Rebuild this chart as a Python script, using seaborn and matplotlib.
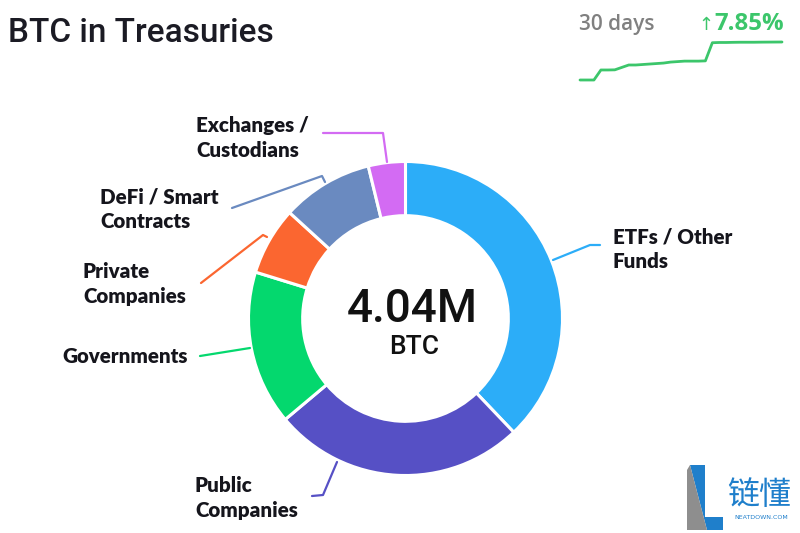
import matplotlib
matplotlib.use("Agg")
import matplotlib.pyplot as plt
import seaborn as sns
import pandas as pd
import numpy as np
from matplotlib.patches import Polygon

# ---------------- data ----------------
categories = ["ETFs / Other\nFunds", "Public\nCompanies", "Governments",
              "Private\nCompanies", "DeFi / Smart\nContracts", "Exchanges /\nCustodians"]
holdings_k_btc = [1531, 1050, 642, 283, 380, 154]   # thousand BTC
slice_colors = ["#2CADF8", "#5650C5", "#04D86E", "#FB6630", "#6A8AC0", "#D36BF3"]
total_label = "4.04M"
unit_label = "BTC"
title = "BTC in Treasuries"
spark_days = list(range(30))
spark_change_pct = [0, 0, 0, 2.07, 2.07, 2.1, 2.6, 3.1, 3.1, 3.2, 3.3, 3.4, 3.5, 3.7,
                    3.8, 3.9, 3.9, 3.9, 3.95, 7.7, 7.75, 7.75, 7.78, 7.8, 7.8, 7.8,
                    7.82, 7.83, 7.84, 7.85]
spark_period = "30 days"
spark_arrow = "\u2191"
spark_delta = "7.85%"

# ---------------- layout ----------------
W, H = 800, 533
sns.set_theme(style="white")
plt.rcParams["font.family"] = ["Lato", "DejaVu Sans"]

fig = plt.figure(figsize=(W / 100, H / 100), dpi=100)
fig.patch.set_facecolor("white")

# donut axes
cx, cy, R = 405.5, 318.5, 157
ax_pie = fig.add_axes([(cx - R) / W, (H - cy - R) / H, 2 * R / W, 2 * R / H])
palette = sns.color_palette(slice_colors)
wedges, _ = ax_pie.pie(holdings_k_btc, colors=palette, startangle=90, counterclock=False,
                       radius=1.0,
                       wedgeprops=dict(width=0.345, edgecolor="white", linewidth=2.2,
                                       joinstyle="round"))
ax_pie.set_xlim(-1, 1)
ax_pie.set_ylim(-1, 1)
ax_pie.set_aspect("equal")
ax_pie.axis("off")

# overlay axes in pixel coordinates
ax = fig.add_axes([0, 0, 1, 1], zorder=5)
ax.set_xlim(0, W)
ax.set_ylim(H, 0)
ax.axis("off")
ax.patch.set_alpha(0)

ax.text(8, 42, title, fontsize=24, color="#1b1b24", family=["Roboto", "DejaVu Sans"],
        fontweight="medium", va="baseline", ha="left")

# center text
ax.text(cx + 7, 322, total_label, fontsize=33, color="#111111",
        family=["Roboto", "DejaVu Sans"], fontweight="medium", ha="center", va="baseline")
ax.text(cx + 9, 354, unit_label, fontsize=19, color="#111111",
        family=["Roboto", "DejaVu Sans"], fontweight="medium", ha="center", va="baseline")

# labels and leader lines
label_pos = [(613, 243), (195, 492), (62, 363), (83, 278), (100, 203), (196, 132)]
leaders = [
    [(553, 260), (590, 245), (600, 245)],
    [(337, 462), (323, 495), (312, 496)],
    [(200, 356), (250, 348)],
    [(201, 283), (263, 235), (267, 237)],
    [(232, 208), (322, 176), (325, 182)],
    [(323, 133), (383, 133), (387, 162)],
]
for lab, (lx, ly), pts, col in zip(categories, label_pos, leaders, palette):
    for i, line in enumerate(lab.split("\n")):
        ax.text(lx, ly + i * 25, line, fontsize=14.8, fontweight="heavy", color="#15151c",
                ha="left", va="baseline")
    xs, ys = zip(*pts)
    ax.plot(xs, ys, color=col, lw=1.6, solid_capstyle="round", solid_joinstyle="round")

# sparkline header
ax.text(579, 30, spark_period, fontsize=15, color="#808080", ha="left", va="baseline",
        family=["Open Sans", "DejaVu Sans"], fontweight="semibold")
ax.text(784, 30, spark_delta, fontsize=17.3, color="#3CC66B", ha="right", va="baseline",
        family=["Open Sans", "DejaVu Sans"], fontweight="bold")
ax.text(713, 30, spark_arrow, fontsize=13, color="#3CC66B", ha="right", va="baseline",
        family=["DejaVu Sans"])

sx0, sx1, sy0, sy1 = 578, 784, 38, 84
ax_sp = fig.add_axes([sx0 / W, (H - sy1) / H, (sx1 - sx0) / W, (sy1 - sy0) / H], zorder=6)
df = pd.DataFrame({"day": spark_days, "chg": spark_change_pct})
sns.lineplot(data=df, x="day", y="chg", ax=ax_sp, color="#3CC66B", lw=2)
pxd = (782 - 580) / 29
ax_sp.set_xlim(-(580 - sx0) / pxd, 29 + (sx1 - 782) / pxd)
ppu = (80 - 42) / 7.85
ax_sp.set_ylim(-(sy1 - 80) / ppu, 7.85 + (42 - sy0) / ppu)
ax_sp.axis("off")
ax_sp.patch.set_alpha(0)

# watermark logo
ax.add_patch(Polygon([(690, 465), (705, 465), (705, 517), (723, 517), (723, 530), (707, 530)],
                     closed=True, color="#1F7FCB", lw=0))
ax.add_patch(Polygon([(687, 470), (690, 465), (707, 530), (687, 530)], closed=True,
                     color="#8e8e8e", lw=0))
ax.text(727, 504, "链懂", fontsize=23, color="#1F7FCB", ha="left", va="baseline",
        family=["Noto Sans CJK SC", "DejaVu Sans"], fontweight="medium")
ax.text(761, 519, "NEATDOWN.COM", fontsize=4.5, color="#1F7FCB", ha="center", va="baseline",
        family=["DejaVu Sans"])

fig.savefig("out.png", dpi=100, facecolor="white")
